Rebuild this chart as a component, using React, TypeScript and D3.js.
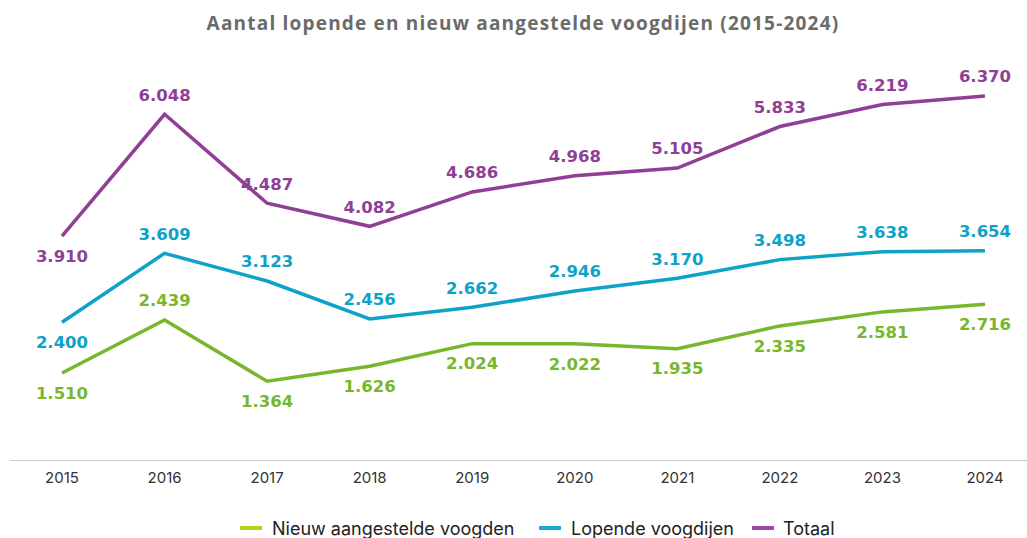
import React from "react";
import * as d3 from "d3";

const years = ["2015", "2016", "2017", "2018", "2019", "2020", "2021", "2022", "2023", "2024"];
const nieuw = [1510, 2439, 1364, 1626, 2024, 2022, 1935, 2335, 2581, 2716];
const lopende = [2400, 3609, 3123, 2456, 2662, 2946, 3170, 3498, 3638, 3654];
const totaal = [3910, 6048, 4487, 4082, 4686, 4968, 5105, 5833, 6219, 6370];
const nieuwLabelSide = ["below", "above", "below", "below", "below", "below", "below", "below", "below", "below"];
const lopendeLabelSide = ["below", "above", "above", "above", "above", "above", "above", "above", "above", "above"];
const totaalLabelSide = ["below", "above", "above", "above", "above", "above", "above", "above", "above", "above"];
const title = "Aantal lopende en nieuw aangestelde voogdijen (2015-2024)";

const W = 1027;
const H = 538;

const series = [
  { name: "Nieuw aangestelde voogden", values: nieuw, sides: nieuwLabelSide, line: "#78b62c", swatch: "#b2d119" },
  { name: "Lopende voogdijen", values: lopende, sides: lopendeLabelSide, line: "#0ea2c7", swatch: "#1aa8d0" },
  { name: "Totaal", values: totaal, sides: totaalLabelSide, line: "#8f3f95", swatch: "#9a4aa5" },
];

const fmt = (v: number) => {
  const s = String(v);
  return s.length > 3 ? s.slice(0, s.length - 3) + "." + s.slice(-3) : s;
};

export default function App() {
  const x = d3.scalePoint<string>().domain(years).range([62, 985]);
  const y = d3.scaleLinear().domain([0, 7000]).range([459, 60]);
  const line = d3
    .line<number>()
    .x((_, i) => x(years[i]) as number)
    .y((d) => y(d));

  const legendItems = [
    { sx: 240, tx: 272 },
    { sx: 539, tx: 571 },
    { sx: 752, tx: 783 },
  ];

  return (
    <svg
      width={W}
      height={H}
      style={{ position: "absolute", left: 0, top: 0, display: "block", background: "#fff" }}
    >
      <text
        x={523}
        y={30}
        textAnchor="middle"
        fontFamily="'Open Sans', sans-serif"
        fontWeight={700}
        fontSize={19}
        letterSpacing={1.2}
        fill="#6b6b6b"
      >
        {title}
      </text>

      <line x1={10} x2={W} y1={460.5} y2={460.5} stroke="#cccccc" strokeWidth={1} />
      {years.map((yr) => (
        <text
          key={yr}
          x={x(yr)}
          y={483}
          textAnchor="middle"
          fontFamily="Inter, 'Open Sans', sans-serif"
          fontSize={15}
          fill="#333"
        >
          {yr}
        </text>
      ))}

      {series.map((s) => (
        <path
          key={s.name}
          d={line(s.values) || ""}
          fill="none"
          stroke={s.line}
          strokeWidth={3.5}
          strokeLinejoin="miter"
        />
      ))}

      {series.map((s) =>
        s.values.map((v, i) => (
          <text
            key={s.name + i}
            x={x(years[i])}
            y={y(v) + (s.sides[i] === "above" ? -19.5 : 20)}
            dy="0.35em"
            textAnchor="middle"
            fontFamily="'DejaVu Sans', sans-serif"
            fontWeight={700}
            fontSize={16.5}
            fill={s.line}
          >
            {fmt(v)}
          </text>
        ))
      )}

      {series.map((s, i) => (
        <g key={"lg" + s.name}>
          <rect x={legendItems[i].sx} y={526} width={22} height={4} fill={s.swatch} />
          <text
            x={legendItems[i].tx}
            y={534.5}
            fontFamily="Inter, 'Open Sans', sans-serif"
            fontSize={18}
            fill="#222"
          >
            {s.name}
          </text>
        </g>
      ))}
    </svg>
  );
}
